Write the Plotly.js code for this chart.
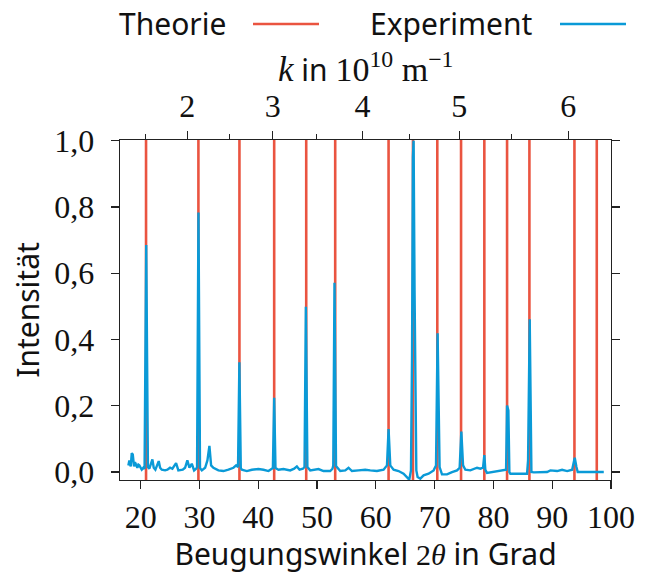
<!DOCTYPE html>
<html>
<head>
<meta charset="utf-8">
<script src="https://cdn.plot.ly/plotly-3.0.1.min.js"></script>
<style>
  html, body { margin: 0; padding: 0; background: #fff; }
  #chart { width: 649px; height: 574px; }
</style>
</head>
<body>
<div id="chart"></div>
<script>
// Reflex positions predicted by theory (diffraction angle 2θ in degrees)
const thetaTheory = [20.90, 29.81, 36.79, 42.70, 48.15, 53.08, 62.16, 66.31,
                     70.45, 74.49, 78.45, 82.32, 86.12, 93.78, 97.58];

// Measured diffractogram: angle 2θ in degrees and normalised intensity
const thetaExp = [17.89, 18.06, 18.30, 18.47, 18.64, 18.86, 19.02, 19.15, 19.42, 19.60,
  19.76, 20.17, 20.44, 20.65, 20.93, 21.22, 21.46, 21.98, 22.21, 22.49,
  23.06, 23.29, 23.58, 24.14, 24.53, 24.99, 25.38, 26.01, 26.40, 27.15,
  27.54, 27.93, 28.28, 28.68, 29.08, 29.42, 29.58, 29.82, 30.08, 30.39,
  30.95, 31.34, 31.68, 31.97, 32.36, 33.21, 34.06, 34.92, 35.77, 36.23,
  36.55, 36.78, 37.02, 37.20, 38.05, 38.90, 40.02, 40.88, 41.73, 42.30,
  42.48, 42.70, 42.92, 43.43, 44.28, 45.42, 46.10, 46.56, 47.01, 47.58,
  47.86, 48.09, 48.35, 48.83, 49.51, 50.24, 51.09, 52.23, 52.62, 52.75,
  52.96, 53.22, 53.94, 54.79, 55.35, 55.93, 57.05, 58.19, 59.04, 60.18,
  61.31, 61.89, 62.16, 62.45, 63.01, 63.86, 64.71, 65.29, 65.68, 65.97,
  66.15, 66.30, 66.42, 66.58, 66.88, 67.10, 67.56, 68.12, 68.97, 69.82,
  70.23, 70.50, 70.84, 71.25, 72.10, 72.95, 73.81, 74.25, 74.54, 74.83,
  75.22, 76.07, 76.63, 77.21, 77.78, 78.23, 78.45, 78.62, 78.91, 82.15,
  82.32, 82.54, 82.71, 82.88, 85.72, 85.89, 86.17, 86.46, 86.85, 89.13,
  89.69, 90.83, 91.68, 92.54, 93.39, 93.66, 93.83, 94.12, 94.34, 98.77];
const intensityExp = [0.020, 0.035, 0.017, 0.057, 0.053, 0.017, 0.030, 0.025, 0.013, 0.022,
  0.020, 0.007, 0.013, 0.010, 0.685, 0.015, 0.010, 0.038, 0.013, 0.007,
  0.033, 0.013, 0.007, 0.005, 0.007, 0.013, 0.010, 0.027, 0.005, 0.007,
  0.013, 0.035, 0.013, 0.025, 0.005, 0.010, 0.015, 0.783, 0.012, 0.005,
  0.013, 0.035, 0.079, 0.020, 0.013, 0.005, 0.003, 0.007, 0.013, 0.020,
  0.015, 0.331, 0.012, 0.007, 0.003, 0.007, 0.009, 0.007, 0.003, 0.010,
  0.012, 0.224, 0.012, 0.007, 0.009, 0.005, 0.010, 0.017, 0.007, 0.010,
  0.015, 0.499, 0.015, 0.005, 0.007, 0.009, 0.003, 0.003, 0.010, 0.020,
  0.571, 0.018, 0.003, 0.005, 0.013, 0.003, 0.005, 0.007, 0.005, 0.003,
  0.007, 0.020, 0.130, 0.020, 0.007, 0.003, -0.005, -0.015, -0.023, 0.005,
  0.350, 0.950, 1.000, 0.550, 0.005, -0.015, -0.020, -0.010, -0.005, 0.005,
  0.020, 0.419, 0.015, -0.007, -0.007, 0.000, 0.005, 0.013, 0.122, 0.020,
  0.007, 0.005, 0.010, 0.013, 0.010, 0.013, 0.051, 0.007, -0.003, 0.007,
  0.201, 0.186, 0.000, -0.005, -0.005, 0.035, 0.461, 0.000, -0.001, 0.000,
  0.005, 0.003, 0.007, 0.003, 0.007, 0.025, 0.043, 0.015, 0.000, 0.000];

// Bottom axis ticks (2θ) and left axis ticks (intensity)
const thetaTicks = [20, 30, 40, 50, 60, 70, 80, 90, 100];
const intensityTicks = [0, 0.2, 0.4, 0.6, 0.8, 1.0];

// Top axis: wave number k in 10^10 m^-1
const kTicks = [2, 3, 4, 5, 6];
const kMinorTicks = [1.5, 2.5, 3.5, 4.5, 5.5];
const wavelength = 1.516; // in 10^-10 m

// k = 4π sin(θ) / λ  ->  2θ in degrees
function kToTwoTheta(k) {
  return 2 * Math.asin(k * wavelength / (4 * Math.PI)) * 180 / Math.PI;
}

const xRange = [16.47, 100];
const yRange = [-0.024, 1.002];

const RED = '#EA5440';
const BLUE = '#0A9AD7';
const INK = '#111111';
const SERIF = 'Liberation Serif, DejaVu Serif, serif';
const SANS = 'Noto Sans, Open Sans, sans-serif';

// One vertical segment per theoretical reflex, spanning the whole plot height
const theoryX = [], theoryY = [];
thetaTheory.forEach(t => {
  theoryX.push(t, t, null);
  theoryY.push(-1, 2, null);
});

const traces = [
  {
    x: theoryX, y: theoryY, xaxis: 'x', yaxis: 'y',
    type: 'scatter', mode: 'lines', name: 'Theorie',
    line: { color: RED, width: 2.6 }, hoverinfo: 'skip', showlegend: false
  },
  {
    x: thetaExp, y: intensityExp, xaxis: 'x2', yaxis: 'y',
    type: 'scatter', mode: 'lines', name: 'Experiment',
    line: { color: BLUE, width: 2.4 }, showlegend: false
  }
];

const axisCommon = {
  showgrid: false, zeroline: false, showline: true,
  linecolor: '#222', linewidth: 1.4,
  ticks: 'outside', ticklen: 8, tickwidth: 1.2, tickcolor: '#222',
  tickfont: { family: SERIF, size: 32, color: INK }
};

const plotW = 491, plotH = 340, plotLeft = 120, plotTop = 140;
const toPaperX = x => (x - plotLeft) / plotW;
const toPaperY = y => (plotTop + plotH - y) / plotH;

const layout = {
  width: 649, height: 574,
  margin: { l: plotLeft, r: 649 - plotLeft - plotW, t: plotTop, b: 574 - plotTop - plotH },
  paper_bgcolor: '#fff', plot_bgcolor: '#fff',
  separators: ',.',
  font: { family: SANS, size: 30, color: INK },
  showlegend: false,
  xaxis: Object.assign({}, axisCommon, {
    range: xRange, tickmode: 'array', tickvals: thetaTicks,
    ticklabelstandoff: 0,
    title: {
      text: 'Beugungswinkel <span style="font-family:Liberation Serif">2<i>θ</i></span> in Grad',
      font: { family: SANS, size: 30, color: INK }, standoff: 14
    }
  }),
  xaxis2: Object.assign({}, axisCommon, {
    range: xRange, overlaying: 'x', side: 'top', anchor: 'y',
    tickmode: 'array', tickvals: kTicks.map(kToTwoTheta),
    ticktext: kTicks.map(String),
    ticklabelstandoff: 1,
    minor: {
      tickmode: 'array', tickvals: kMinorTicks.map(kToTwoTheta),
      ticks: 'outside', ticklen: 4.5, tickwidth: 1.2, tickcolor: '#222'
    }
  }),
  yaxis: Object.assign({}, axisCommon, {
    range: yRange, tickmode: 'array', tickvals: intensityTicks,
    tickformat: '.1f', mirror: 'ticks', ticklabelstandoff: 10,
    title: { text: 'Intensität', font: { family: SANS, size: 30, color: INK }, standoff: 5 }
  }),
  annotations: [
    // Title of the top (wave number) axis
    { xref: 'paper', yref: 'paper', x: 0.5, y: toPaperY(68), xanchor: 'center', yanchor: 'middle',
      text: '<span style="font-family:Liberation Serif;font-size:35px"><i>k</i></span> in ' +
            '<span style="font-family:Liberation Serif;font-size:34px">10<sup>10</sup> m<sup>−1</sup></span>',
      showarrow: false, font: { family: SANS, size: 30, color: INK } },
    // Legend: label followed by its line sample
    { xref: 'paper', yref: 'paper', x: toPaperX(117), y: toPaperY(23.5), xanchor: 'left', yanchor: 'middle',
      text: 'Theorie', showarrow: false, font: { family: SANS, size: 30, color: INK } },
    { xref: 'paper', yref: 'paper', x: toPaperX(368), y: toPaperY(23.5), xanchor: 'left', yanchor: 'middle',
      text: 'Experiment', showarrow: false, font: { family: SANS, size: 30, color: INK } }
  ],
  shapes: [
    { type: 'line', xref: 'paper', yref: 'paper', x0: toPaperX(253), x1: toPaperX(319), y0: toPaperY(24), y1: toPaperY(24),
      line: { color: RED, width: 2.6 } },
    { type: 'line', xref: 'paper', yref: 'paper', x0: toPaperX(560), x1: toPaperX(626), y0: toPaperY(24), y1: toPaperY(24),
      line: { color: BLUE, width: 2.6 } }
  ]
};

Plotly.newPlot('chart', traces, layout, { displayModeBar: false, staticPlot: true });
</script>
</body>
</html>
